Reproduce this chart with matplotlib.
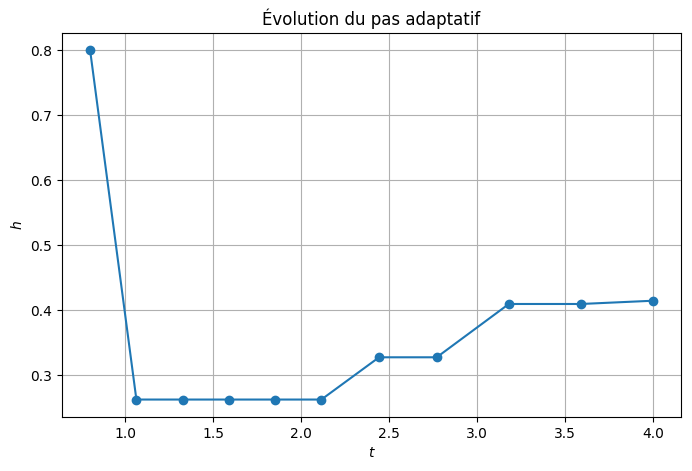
import matplotlib
matplotlib.use("Agg")
import matplotlib.pyplot as plt

# Temps et pas adaptatif
t = [0.8, 1.063, 1.326, 1.589, 1.852, 2.115, 2.443, 2.771, 3.181, 3.591, 4.0]
h = [0.8, 0.263, 0.263, 0.263, 0.263, 0.263, 0.328, 0.328, 0.410, 0.410, 0.415]

fig = plt.figure(figsize=(6.92, 4.71), dpi=100)
ax = fig.add_axes([62 / 692, 1 - 417 / 471, (681 - 62) / 692, (417 - 33) / 471])

ax.plot(t, h, marker="o", color="#1f77b4")
ax.set_title("Évolution du pas adaptatif")
ax.set_xlabel("$t$")
ax.set_ylabel("$h$")
ax.grid(True)

plt.savefig("out.png", dpi=100)
